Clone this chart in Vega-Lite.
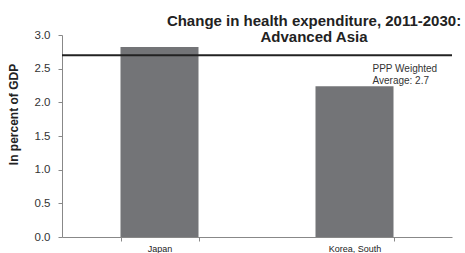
{
  "$schema": "https://vega.github.io/schema/vega-lite/v6.json",
  "autosize": "none",
  "width": 390,
  "height": 202,
  "padding": {"left": 62, "top": 35, "right": 13, "bottom": 16},
  "background": "white",
  "config": {"view": {"stroke": null}, "font": "Liberation Sans"},
  "title": {
    "text": ["Change in health expenditure, 2011-2030:", "Advanced Asia"],
    "fontSize": 15,
    "fontWeight": "bold",
    "color": "#222",
    "anchor": "middle",
    "dx": 57,
    "offset": -16,
    "lineHeight": 16
  },
  "data": {
    "values": [
      {"country": "Japan", "value": 2.82, "avg": 2.7},
      {"country": "Korea, South", "value": 2.24, "avg": 2.7}
    ]
  },
  "layer": [
    {
      "mark": {"type": "bar", "color": "#737477"},
      "encoding": {
        "x": {
          "field": "country",
          "type": "nominal",
          "sort": null,
          "scale": {"paddingInner": 0.6, "paddingOuter": 0.3},
          "axis": {
            "title": null,
            "labelAngle": 0,
            "labelFontSize": 9,
            "labelColor": "#222",
            "tickBand": "extent",
            "tickSize": 4,
            "tickColor": "#888",
            "domainColor": "#888",
            "labelPadding": 3
          }
        },
        "y": {
          "field": "value",
          "type": "quantitative",
          "scale": {"domain": [0, 3]},
          "axis": {
            "title": "In percent of GDP",
            "titleFontSize": 12,
            "titleFontWeight": "bold",
            "titleColor": "#222",
            "titlePadding": 14,
            "titleY": 79,
            "values": [0, 0.5, 1, 1.5, 2, 2.5, 3],
            "labelOverlap": false,
            "format": ".1f",
            "labelFontSize": 11.5,
            "labelColor": "#333",
            "tickSize": 4,
            "tickColor": "#888",
            "domainColor": "#888",
            "grid": false,
            "labelPadding": 8
          }
        }
      }
    },
    {
      "mark": {"type": "rule", "color": "#222", "strokeWidth": 2},
      "encoding": {
        "y": {
          "aggregate": "mean",
          "field": "avg",
          "type": "quantitative",
          "axis": {
            "title": "In percent of GDP",
            "titleFontSize": 12,
            "titleFontWeight": "bold",
            "titleColor": "#222",
            "titlePadding": 14,
            "titleY": 79,
            "values": [0, 0.5, 1, 1.5, 2, 2.5, 3],
            "labelOverlap": false,
            "format": ".1f",
            "labelFontSize": 11.5,
            "labelColor": "#333",
            "tickSize": 4,
            "tickColor": "#888",
            "domainColor": "#888",
            "grid": false,
            "labelPadding": 8
          }
        }
      }
    },
    {
      "transform": [{"filter": "datum.country === 'Korea, South'"}],
      "mark": {
        "type": "text",
        "align": "left",
        "baseline": "top",
        "fontSize": 10,
        "color": "#333",
        "dx": 18,
        "dy": 9,
        "lineHeight": 12
      },
      "encoding": {
        "x": {"field": "country", "type": "nominal", "sort": null},
        "y": {
          "field": "avg",
          "type": "quantitative",
          "axis": {
            "title": "In percent of GDP",
            "titleFontSize": 12,
            "titleFontWeight": "bold",
            "titleColor": "#222",
            "titlePadding": 14,
            "titleY": 79,
            "values": [0, 0.5, 1, 1.5, 2, 2.5, 3],
            "labelOverlap": false,
            "format": ".1f",
            "labelFontSize": 11.5,
            "labelColor": "#333",
            "tickSize": 4,
            "tickColor": "#888",
            "domainColor": "#888",
            "grid": false,
            "labelPadding": 8
          }
        },
        "text": {"value": ["PPP Weighted", "Average: 2.7"]}
      }
    }
  ]
}
